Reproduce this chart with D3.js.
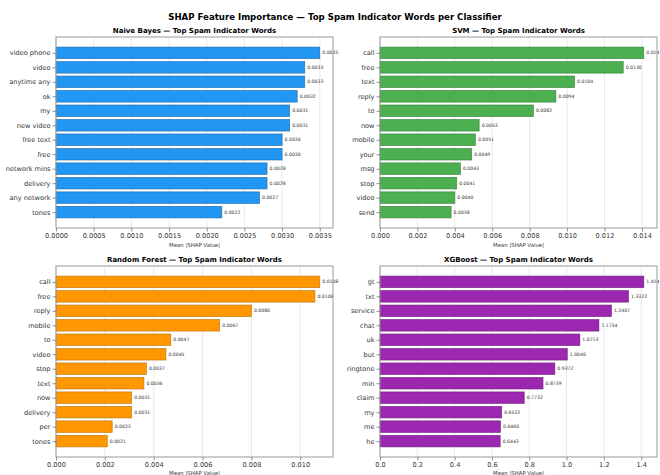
<!DOCTYPE html>
<html><head><meta charset="utf-8">
<script src="https://cdn.jsdelivr.net/npm/d3@7/dist/d3.min.js"></script>
<style>
html,body{margin:0;padding:0;background:#fff;}
svg{display:block;font-family:"DejaVu Sans",sans-serif;}
</style></head>
<body>
<svg id="chart" width="660" height="475"></svg>
<script>
const figTitle = "SHAP Feature Importance — Top Spam Indicator Words per Classifier";

const nbWords  = ["video phone","video","anytime any","ok","my","new video","free text","free","network mins","delivery","any network","tones"];
const nbValues = [0.0035,0.0033,0.0033,0.0032,0.0031,0.0031,0.0030,0.0030,0.0028,0.0028,0.0027,0.0022];

const svmWords  = ["call","free","text","reply","to","now","mobile","your","msg","stop","video","send"];
const svmValues = [0.0141,0.0130,0.0104,0.0094,0.0082,0.0053,0.0051,0.0049,0.0043,0.0041,0.0040,0.0038];

const rfWords  = ["call","free","reply","mobile","to","video","stop","text","now","delivery","per","tones"];
const rfValues = [0.0108,0.0106,0.0080,0.0067,0.0047,0.0045,0.0037,0.0036,0.0031,0.0031,0.0023,0.0021];

const xgbWords  = ["gt","txt","service","chat","uk","but","ringtone","min","claim","my","me","he"];
const xgbValues = [1.4141,1.3322,1.2407,1.1734,1.0713,1.0040,0.9372,0.8739,0.7732,0.6522,0.6460,0.6443];

const panelTitles = ["Naive Bayes — Top Spam Indicator Words","SVM — Top Spam Indicator Words",
                     "Random Forest — Top Spam Indicator Words","XGBoost — Top Spam Indicator Words"];
const xTickSteps = [0.0005,0.002,0.002,0.2];
const xTickDecimals = [4,3,3,1];
const xAxisLabel = "Mean |SHAP Value|";
const colors = ["#2196F3","#4CAF50","#FF9800","#9C27B0"];
const edgeColors = ["#1565a8","#2e7d32","#b86e00","#6a1b7a"];

const boxes = [
  {l:56,r:333,t:37,b:228,lab:19},
  {l:380,r:657,t:37,b:228,lab:19},
  {l:56,r:333,t:266,b:457,lab:17.5},
  {l:380,r:657,t:266,b:457,lab:17.5}
];
const allWords = [nbWords,svmWords,rfWords,xgbWords];
const allValues = [nbValues,svmValues,rfValues,xgbValues];

const svg = d3.select("#chart");

svg.append("text").attr("x",335).attr("y",19.5).attr("text-anchor","middle")
  .attr("font-size",8.6).attr("font-weight","bold").attr("fill","#000").text(figTitle);

boxes.forEach((bx,p)=>{
  const words = allWords[p], vals = allValues[p];
  const vmax = d3.max(vals);
  const x = d3.scaleLinear().domain([0, vmax*1.05]).range([bx.l,bx.r]);
  const n = words.length;
  const y = d3.scaleLinear().domain([-0.4-0.059*(n-0.2), (n-1)+0.4+0.059*(n-0.2)]).range([bx.t,bx.b]);
  const g = svg.append("g");
  const ticks = d3.range(0, x.domain()[1]+1e-12, xTickSteps[p]).map(v=>+v.toFixed(6));

  g.selectAll(".grid").data(ticks).join("line")
    .attr("x1",d=>x(d)).attr("x2",d=>x(d)).attr("y1",bx.t).attr("y2",bx.b)
    .attr("stroke","#e4e4e4").attr("stroke-width",0.8);

  const bh = y(0.8)-y(0);
  g.selectAll(".bar").data(vals).join("rect")
    .attr("x",x(0)).attr("y",(d,i)=>y(i)-bh/2)
    .attr("width",d=>x(d)-x(0)).attr("height",bh)
    .attr("fill",colors[p]).attr("stroke",edgeColors[p]).attr("stroke-width",0.7)
    .attr("stroke-opacity",0.8);

  g.selectAll(".vl").data(vals).join("text")
    .attr("x",d=>x(d)+2.5).attr("y",(d,i)=>y(i)).attr("dy","0.35em")
    .attr("font-size",4.6).attr("fill","#333").text(d=>d.toFixed(4));

  g.append("rect").attr("x",bx.l).attr("y",bx.t).attr("width",bx.r-bx.l).attr("height",bx.b-bx.t)
    .attr("fill","none").attr("stroke","#999").attr("stroke-width",1);

  const xa = d3.axisBottom(x).tickValues(ticks).tickFormat(d=>d.toFixed(xTickDecimals[p])).tickSize(3.5).tickPadding(2);
  const xg = g.append("g").attr("transform",`translate(0,${bx.b})`).call(xa);
  xg.select(".domain").remove();
  xg.selectAll("line").attr("stroke","#666").attr("stroke-width",0.7);
  xg.selectAll("text").attr("font-size",6.6).attr("fill","#333").attr("font-family","DejaVu Sans");

  const ya = d3.axisLeft(y).tickValues(d3.range(n)).tickFormat(i=>words[i]).tickSize(3.5).tickPadding(2);
  const yg = g.append("g").attr("transform",`translate(${bx.l},0)`).call(ya);
  yg.select(".domain").remove();
  yg.selectAll("line").attr("stroke","#666").attr("stroke-width",0.7);
  yg.selectAll("text").attr("font-size",6.6).attr("fill","#333").attr("font-family","DejaVu Sans");

  svg.append("text").attr("x",(bx.l+bx.r)/2).attr("y",bx.t-4).attr("text-anchor","middle")
    .attr("font-size",7).attr("font-weight","bold").attr("fill","#000").text(panelTitles[p]);
  svg.append("text").attr("x",(bx.l+bx.r)/2).attr("y",bx.b+bx.lab).attr("text-anchor","middle")
    .attr("font-size",5.4).attr("fill","#333").text(xAxisLabel);
});
</script>
</body></html>
